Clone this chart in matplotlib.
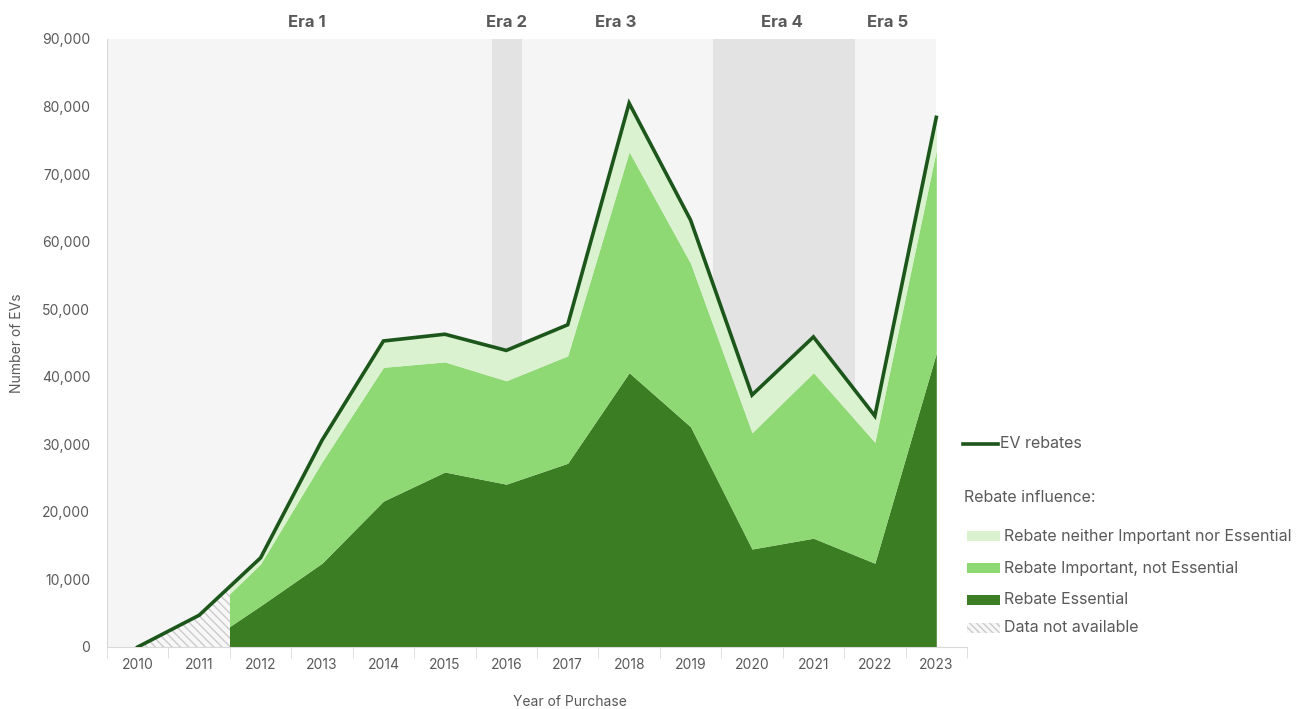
import numpy as np
import matplotlib.pyplot as plt
from matplotlib.patches import Rectangle
from matplotlib.lines import Line2D
from matplotlib.ticker import FuncFormatter, MultipleLocator

plt.rcParams['font.family'] = ['Inter', 'DejaVu Sans']
plt.rcParams['hatch.color'] = '#cbcbcb'
plt.rcParams['hatch.linewidth'] = 1.0

years = np.arange(2010, 2024)
# rebates by influence level (2010/2011 columns fall in the "not available" period)
essential = np.array([0, 0, 6100, 12400, 21600, 25900, 24100, 27200, 40600,
                      32600, 14500, 16100, 12400, 43500])
important = np.array([0, 3500, 6200, 15000, 19800, 16300, 15300, 15900, 32700,
                      24200, 17200, 24500, 17900, 30000])
neither = np.array([0, 1200, 900, 3200, 3900, 4100, 4500, 4600, 7200,
                    6400, 5600, 5300, 3900, 4900])
total = np.array([0, 4700, 13200, 30600, 45300, 46300, 43900, 47700, 80500,
                  63200, 37300, 45900, 34200, 78400])

eras = ['Era 1', 'Era 2', 'Era 3', 'Era 4', 'Era 5']
era_bounds = [(2009.5, 2015.76), (2015.76, 2016.25), (2016.25, 2019.37),
              (2019.37, 2021.67), (2021.67, 2023.0)]
era_label_x = [2012.75, 2016.0, 2017.78, 2020.48, 2022.2]

c_line = '#1c561b'
c_dark = '#3b7d23'
c_mid = '#8ed973'
c_light = '#daf2d0'
c_text = '#595959'
c_axis = '#d9d9d9'

W, H = 1305, 709
fig = plt.figure(figsize=(W / 100, H / 100), dpi=100)
ax = fig.add_axes([107 / W, 1 - 647 / H, (967 - 107) / W, (647 - 39) / H])

def px(x, y):
    return x / W, 1 - y / H

# era backgrounds
for i, (a, b) in enumerate(era_bounds):
    ax.axvspan(a, b, color='#e3e3e3' if i in (1, 3) else '#f5f5f5', lw=0, zorder=0)
    ax.text(era_label_x[i], 1.015, eras[i], transform=ax.get_xaxis_transform(),
            ha='center', va='bottom', fontsize=12, fontweight='bold', color=c_text)

# stacked areas, shown only from mid-2011 on
clip = Rectangle((2011.5, 0), 20, 1e6, transform=ax.transData)
lvl1 = essential
lvl2 = essential + important
lvl3 = lvl2 + neither
for lo, hi, c in [(0, lvl1, c_dark), (lvl1, lvl2, c_mid), (lvl2, lvl3, c_light)]:
    poly = ax.fill_between(years, lo, hi, color=c, lw=0, zorder=2)
    poly.set_clip_path(clip)

# data not available period
clip_na = Rectangle((2000, 0), 11.5, 1e6, transform=ax.transData)
na = ax.fill_between(years, 0, total, facecolor='#f7f7f7', edgecolor='#cbcbcb',
                     hatch='\\\\\\\\', lw=0, zorder=2)
na.set_clip_path(clip_na)

ax.plot(years, total, color=c_line, lw=2.6, zorder=4, solid_joinstyle='miter')

ax.set_xlim(2009.5, 2023.5)
ax.set_ylim(0, 90000)
ax.set_xticks(years)
ax.xaxis.set_minor_locator(MultipleLocator(1, offset=0.5))
ax.tick_params(axis='x', which='major', length=0, pad=8, labelsize=10, labelcolor=c_text)
ax.tick_params(axis='x', which='minor', length=8, color=c_axis, direction='out')
ax.yaxis.set_major_locator(MultipleLocator(10000))
ax.yaxis.set_major_formatter(FuncFormatter(lambda v, p: f'{int(v):,}'))
ax.tick_params(axis='y', length=0, pad=12, labelsize=10, labelcolor=c_text)
for s in ['top', 'right']:
    ax.spines[s].set_visible(False)
ax.spines['left'].set_color(c_axis)
ax.spines['bottom'].set_color(c_axis)
ax.set_facecolor('white')

fig.text(*px(17, 343), 'Number of EVs', rotation=90, ha='center', va='center',
         fontsize=10, color=c_text)
fig.text(*px(570, 702), 'Year of Purchase', ha='center', va='center',
         fontsize=10, color=c_text)

# legend
fig.add_artist(Line2D([963 / W, 998 / W], [1 - 444 / H] * 2, color=c_line, lw=2.6))
fig.text(*px(1000, 444), 'EV rebates', va='center', fontsize=11.5, color=c_text)
fig.text(*px(964, 498), 'Rebate influence:', va='center', fontsize=11.5, color=c_text)
entries = [(536, c_light, None, 'Rebate neither Important nor Essential'),
           (568, c_mid, None, 'Rebate Important, not Essential'),
           (600, c_dark, None, 'Rebate Essential'),
           (628, '#f7f7f7', '\\\\\\\\\\', 'Data not available')]
for y, c, h, label in entries:
    x0, y0 = px(967, y + 5)
    fig.add_artist(Rectangle((x0, y0), 33 / W, 10 / H, transform=fig.transFigure,
                             facecolor=c, edgecolor='#cbcbcb' if h else 'none',
                             hatch=h, lw=0))
    fig.text(*px(1004, y), label, va='center', fontsize=11.5, color=c_text)

fig.savefig('out.png', dpi=100)
